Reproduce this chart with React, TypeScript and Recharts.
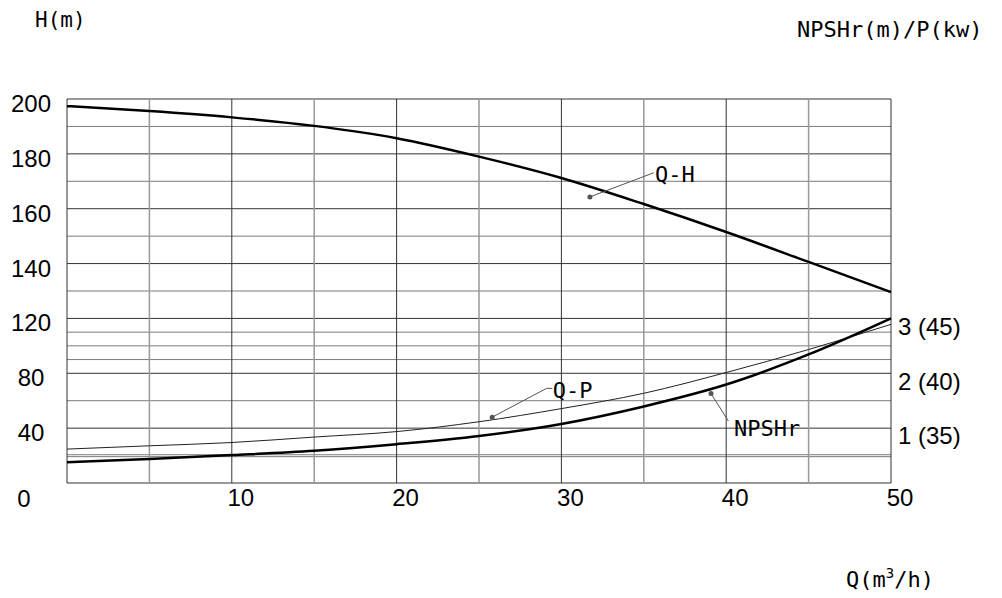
import {
  Line,
  LineChart,
  ReferenceDot,
  ReferenceLine,
  XAxis,
  YAxis,
} from "recharts";

// Q (m3/h)
const flow = [0, 5, 10, 15, 20, 25, 30, 35, 40, 45, 50];
// Q-H head, m (left axis)
const head = [197.4, 195.6, 193.3, 190.2, 185.7, 179.0, 171.2, 161.7, 151.5, 140.6, 129.6];
// NPSHr, m (right axis)
const npshr = [0.38, 0.44, 0.51, 0.59, 0.71, 0.86, 1.08, 1.4, 1.8, 2.35, 3.01];
// Q-P power, kw (right axis, value in brackets)
const power = [33.1, 33.4, 33.7, 34.2, 34.7, 35.6, 36.8, 38.2, 40.1, 42.2, 44.5];

const xTicks = [10, 20, 30, 40, 50];
const qGrid = [0, 5, 10, 15, 20, 25, 30, 35, 40, 45, 50];

// left axis is broken below 120: lines 100/80/60 carry labels 80/40/0
const hTicks = [60, 80, 100, 120, 140, 160, 180, 200];
const hTickLabels = ["0", "40", "80", "120", "140", "160", "180", "200"];
const hGridMajor = [60, 80, 100, 120, 140, 160, 180, 200];
const hGridMinor = [69.6, 70.3, 90, 105, 110, 115, 130, 150, 170, 190];

const nTicks = [1, 2, 3];
const nTickLabels = ["1 (35)", "2 (40)", "3 (45)"];

const data = flow.map((q, i) => ({ q, h: head[i], n: npshr[i], p: power[i] }));

const mono = "'DejaVu Sans Mono', monospace";
const sans = "'Liberation Sans', Arial, sans-serif";

const LeftTick = (props: any) => {
  const { x, y, payload } = props;
  const i = hTicks.indexOf(payload.value);
  const isZero = payload.value === 60;
  return (
    <text
      x={isZero ? x - 43 : x - 36}
      y={isZero ? y + 24 : y + 13}
      textAnchor="middle"
      fontFamily={sans}
      fontSize={24}
      fill="#000"
    >
      {hTickLabels[i]}
    </text>
  );
};

const RightTick = (props: any) => {
  const { x, y, payload } = props;
  const i = nTicks.indexOf(payload.value);
  return (
    <text x={x + 7} y={y + 16} textAnchor="start" fontFamily={sans} fontSize={24} fill="#000">
      {nTickLabels[i]}
    </text>
  );
};

const BottomTick = (props: any) => {
  const { x, y, payload } = props;
  return (
    <text x={x + 9} y={y + 23} textAnchor="middle" fontFamily={sans} fontSize={24} fill="#000">
      {payload.value}
    </text>
  );
};

const note = (label: string) => (p: any) => (
  <text x={p.cx} y={p.cy} fontFamily={mono} fontSize={22} fill="#000">
    {label}
  </text>
);

export default function App() {
  return (
    <div
      style={{
        position: "absolute",
        left: 0,
        top: 0,
        width: 1002,
        height: 598,
        background: "#fff",
      }}
    >
      <LineChart
        width={1002}
        height={598}
        data={data}
        margin={{ top: 99, right: 0, left: 0, bottom: 0 }}
      >
        <XAxis
          dataKey="q"
          type="number"
          domain={[0, 50]}
          ticks={xTicks}
          height={115}
          axisLine={false}
          tickLine={false}
          tickSize={0}
          tickMargin={0}
          tick={<BottomTick />}
        />
        <YAxis
          yAxisId="h"
          type="number"
          domain={[60, 200]}
          ticks={hTicks}
          width={67}
          axisLine={false}
          tickLine={false}
          tickSize={0}
          tickMargin={0}
          tick={<LeftTick />}
        />
        <YAxis
          yAxisId="n"
          orientation="right"
          type="number"
          domain={[0, 7.02]}
          ticks={nTicks}
          width={111}
          axisLine={false}
          tickLine={false}
          tickSize={0}
          tickMargin={0}
          tick={<RightTick />}
        />
        <YAxis yAxisId="p" hide type="number" domain={[30, 65.1]} />

        {hGridMinor.map((v) => (
          <ReferenceLine key={"hm" + v} yAxisId="h" y={v} stroke="#7a7a7a" strokeWidth={1} />
        ))}
        {hGridMajor.map((v) => (
          <ReferenceLine key={"hM" + v} yAxisId="h" y={v} stroke="#333" strokeWidth={1} />
        ))}
        {qGrid.map((v) => (
          <ReferenceLine
            key={"q" + v}
            yAxisId="h"
            x={v}
            stroke={v % 10 === 0 ? "#333" : "#999"}
            strokeWidth={v % 10 === 0 ? 1 : 1.5}
          />
        ))}

        <Line
          yAxisId="p"
          dataKey="p"
          type="monotone"
          stroke="#222"
          strokeWidth={1}
          dot={false}
          isAnimationActive={false}
        />
        <Line
          yAxisId="n"
          dataKey="n"
          type="monotone"
          stroke="#000"
          strokeWidth={2.5}
          dot={false}
          isAnimationActive={false}
        />
        <Line
          yAxisId="h"
          dataKey="h"
          type="monotone"
          stroke="#000"
          strokeWidth={2.5}
          dot={false}
          isAnimationActive={false}
        />

        {/* curve labels with leader lines */}
        <ReferenceLine
          yAxisId="h"
          segment={[{ x: 31.73, y: 164.3 }, { x: 35.6, y: 173.1 }]}
          stroke="#555"
          strokeWidth={1}
        />
        <ReferenceDot yAxisId="h" x={31.73} y={164.3} r={2.5} fill="#555" stroke="none" />
        <ReferenceDot yAxisId="h" x={35.68} y={169.85} r={0} shape={note("Q-H")} />

        <ReferenceLine
          yAxisId="h"
          segment={[{ x: 25.8, y: 84.0 }, { x: 29.1, y: 94.5 }]}
          stroke="#555"
          strokeWidth={1}
        />
        <ReferenceLine
          yAxisId="h"
          segment={[{ x: 29.1, y: 94.5 }, { x: 29.45, y: 94.5 }]}
          stroke="#555"
          strokeWidth={1}
        />
        <ReferenceDot yAxisId="h" x={25.8} y={84.0} r={2.5} fill="#555" stroke="none" />
        <ReferenceDot yAxisId="h" x={29.47} y={91.0} r={0} shape={note("Q-P")} />

        <ReferenceLine
          yAxisId="h"
          segment={[{ x: 39.08, y: 92.6 }, { x: 40.13, y: 82.6 }]}
          stroke="#555"
          strokeWidth={1}
        />
        <ReferenceDot yAxisId="h" x={39.08} y={92.6} r={2.5} fill="#555" stroke="none" />
        <ReferenceDot yAxisId="h" x={40.47} y={77.1} r={0} shape={note("NPSHr")} />
      </LineChart>

      <div
        style={{
          position: "absolute",
          left: 35,
          top: 7,
          fontFamily: mono,
          fontSize: 21,
          lineHeight: "26px",
          whiteSpace: "nowrap",
        }}
      >
        H(m)
      </div>
      <div
        style={{
          position: "absolute",
          left: 797,
          top: 16,
          fontFamily: mono,
          fontSize: 22,
          lineHeight: "28px",
          whiteSpace: "nowrap",
        }}
      >
        NPSHr(m)/P(kw)
      </div>
      <div
        style={{
          position: "absolute",
          left: 846,
          top: 566,
          fontFamily: mono,
          fontSize: 22,
          lineHeight: "28px",
          whiteSpace: "nowrap",
        }}
      >
        Q(m
        <span style={{ fontSize: 14, position: "relative", top: -9 }}>3</span>
        /h)
      </div>
    </div>
  );
}
